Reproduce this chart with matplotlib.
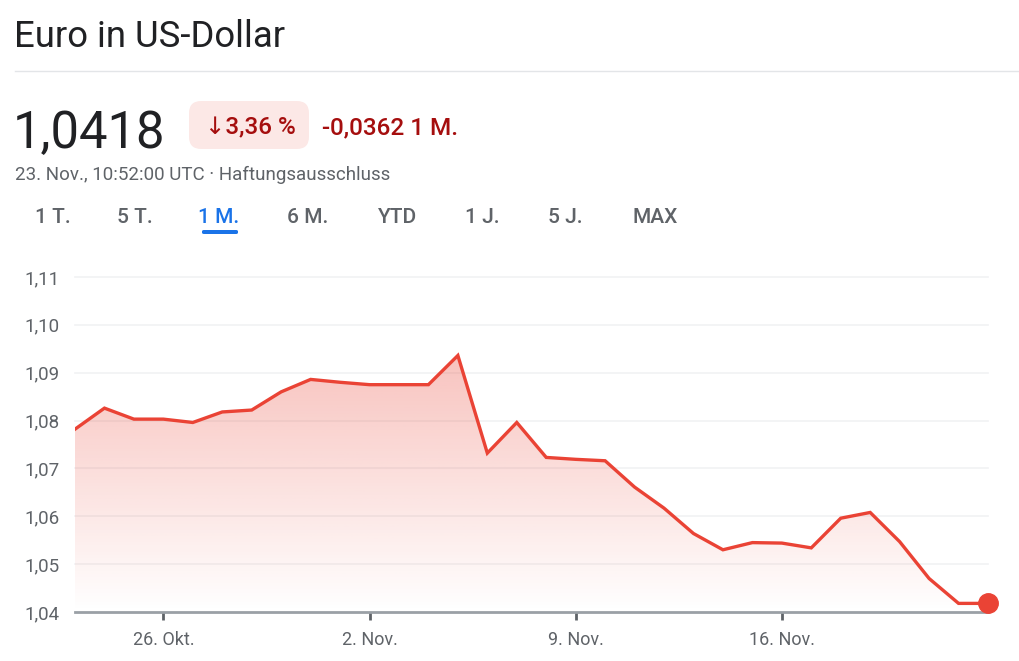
import matplotlib.pyplot as plt
import numpy as np
import pandas as pd
from matplotlib.patches import FancyBboxPatch

# daily EUR/USD closes, 23 Oct - 23 Nov
dates = pd.date_range('2023-10-23', '2023-11-23', freq='D')
rates = [1.0782, 1.0826, 1.0803, 1.0803, 1.0796, 1.0818, 1.0822, 1.0860,
         1.0886, 1.0880, 1.0875, 1.0875, 1.0875, 1.0936, 1.0732, 1.0796,
         1.0723, 1.0719, 1.0716, 1.0661, 1.0617, 1.0564, 1.0530, 1.0545,
         1.0544, 1.0534, 1.0596, 1.0608, 1.0547, 1.0470, 1.0418, 1.0418]
tick_dates = ['2023-10-26', '2023-11-02', '2023-11-09', '2023-11-16']
tick_labels = ['26. Okt.', '2. Nov.', '9. Nov.', '16. Nov.']
y_ticks = [1.04, 1.05, 1.06, 1.07, 1.08, 1.09, 1.10, 1.11]
tabs = ['1 T.', '5 T.', '1 M.', '6 M.', 'YTD', '1 J.', '5 J.', 'MAX']
tab_x = [53, 135, 219, 308, 398, 482, 565, 655]

RED = '#ea4335'
DARKRED = '#a50e0e'
GREY = '#5f6368'
W, H = 1020, 661

plt.rcParams['font.family'] = ['Roboto', 'DejaVu Sans']

fig = plt.figure(figsize=(W / 100, H / 100), dpi=100)
fig.patch.set_facecolor('white')


def fx(x):
    return x / W


def fy(y):
    return 1 - y / H


# header
fig.text(fx(14), fy(47), 'Euro in US-Dollar', fontsize=26.3, color='#202124',
         va='baseline', ha='left')
fig.add_artist(plt.Line2D([fx(15), fx(1020)], [fy(71), fy(71)],
                          color='#e3e5e8', lw=1))
fig.text(fx(13), fy(148), '1,0418', fontsize=36.5, color='#202124',
         va='baseline', ha='left')
badge = FancyBboxPatch((fx(189), fy(149)), fx(120), 48 / H,
                       boxstyle='round,pad=0,rounding_size=0.012',
                       transform=fig.transFigure, facecolor='#fce8e6',
                       edgecolor='none', mutation_aspect=W / H)
fig.add_artist(badge)
fig.text(fx(250), fy(134), '↓3,36 %', fontsize=17.5, color=DARKRED,
         fontweight='medium', va='baseline', ha='center')
fig.text(fx(322), fy(134), '-0,0362 1 M.', fontsize=17.5, color=DARKRED,
         fontweight='medium', va='baseline', ha='left')
fig.text(fx(15), fy(180), '23. Nov., 10:52:00 UTC · Haftungsausschluss',
         fontsize=13.5, color=GREY, va='baseline', ha='left')

for t, x in zip(tabs, tab_x):
    c = '#1a73e8' if t == '1 M.' else GREY
    fig.text(fx(x), fy(223), t, fontsize=15, color=c, fontweight='medium',
             va='baseline', ha='center')
fig.add_artist(FancyBboxPatch((fx(202), fy(234)), fx(36), 4 / H,
                              boxstyle='round,pad=0,rounding_size=0.002',
                              transform=fig.transFigure, facecolor='#1a73e8',
                              edgecolor='none'))

# chart
ax = fig.add_axes([fx(75), fy(612), fx(988 - 75), (612 - 277) / H])
x = np.arange(len(rates))
y = np.array(rates)
ymin, ymax = 1.04, 1.11

# gradient fill under the line
grad = np.zeros((200, 2, 4))
rgb = np.array([234, 67, 53]) / 255
grad[..., :3] = rgb
grad[..., 3] = np.linspace(0.32, 0.0, 200)[:, None]
top = y.max()
im = ax.imshow(grad, extent=[x[0], x[-1], ymin, top], aspect='auto',
               origin='upper', zorder=1)
poly = ax.fill_between(x, y, ymin, color='none')
clip = poly.get_paths()[0]
im.set_clip_path(clip, transform=ax.transData)

ax.plot(x, y, color=RED, lw=2.4, zorder=3, solid_joinstyle='miter')
ax.plot(x[-1], y[-1], 'o', color=RED, markersize=14, zorder=4, clip_on=False)

ax.set_xlim(x[0], x[-1])
ax.set_ylim(ymin, ymax)
ax.set_yticks(y_ticks)
ax.set_yticklabels([f'{v:.2f}'.replace('.', ',') for v in y_ticks])
tick_pos = [list(dates).index(pd.Timestamp(d)) for d in tick_dates]
ax.set_xticks(tick_pos)
ax.set_xticklabels(tick_labels)

for v in y_ticks[1:]:
    ax.axhline(v, color='#f1f2f4', lw=1.2, zorder=0, clip_on=False)

for s in ['top', 'right', 'left']:
    ax.spines[s].set_visible(False)
ax.spines['bottom'].set_color('#9aa0a6')
ax.spines['bottom'].set_linewidth(2)
ax.tick_params(axis='y', length=0, pad=11, labelsize=13.5, labelcolor=GREY)
ax.tick_params(axis='x', length=6, width=2, color=GREY, pad=8,
               labelsize=13, labelcolor=GREY)

fig.savefig('out.png', dpi=100)
